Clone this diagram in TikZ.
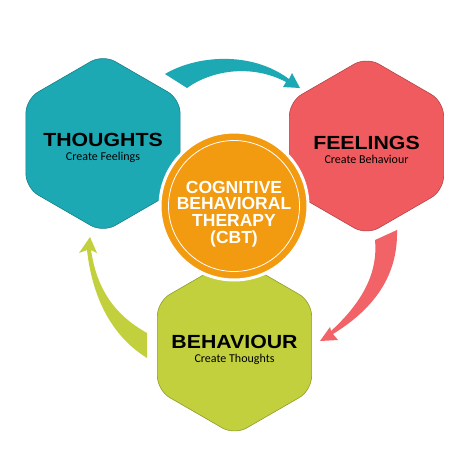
\documentclass[tikz,border=0pt]{standalone}
\usepackage{fontspec}
\usepackage{graphicx}
\setmainfont{Liberation Sans}
\newfontfamily\subfont{Carlito}
\usetikzlibrary{shapes.geometric}
\definecolor{thoughtcol}{HTML}{1DA9B4}
\definecolor{feelcol}{HTML}{F05B5F}
\definecolor{behavcol}{HTML}{C1D03C}
\definecolor{cbtcol}{HTML}{F29A10}
\newcommand{\hextitle}[2]{\scalebox{1.12}[1]{\fontsize{19}{14}\selectfont\bfseries #1}\\{\subfont\fontsize{12}{14}\selectfont #2}}
\tikzset{
  hexbox/.style={regular polygon, regular polygon sides=6, shape border rotate=30,
    minimum size=178pt, inner sep=0pt, rounded corners=14pt, fill=#1,
    draw=#1!75!black, line width=0.6pt},
  hextext/.style={inner sep=0pt, align=center, font=\fontsize{12}{14}\selectfont},
  cbtbox/.style={circle, minimum size=148pt, inner sep=0pt, fill=cbtcol, draw=white,
    line width=3pt, text=white, align=center, font=\fontsize{17.5}{16.7}\selectfont\bfseries}
}
\begin{document}
\begin{tikzpicture}[x=1pt,y=-1pt]
    \fill[white] (0,0) rectangle (450,450);
    \useasboundingbox (0,0) rectangle (450,450);
    % Arrows
    \fill[thoughtcol] (165,74) .. controls (195,56) and (250,50) .. (289,79) -- (292,73) -- (300,88)
      -- (283,87) -- (286,82) .. controls (252,64) and (212,70) .. (187,88) -- cycle;
    \fill[feelcol!95!white] (397,230) .. controls (398,270) and (380,305) .. (333,334) -- (338,340) -- (320,341)
      -- (330,327) -- (331,331) .. controls (365,300) and (378,270) .. (375,240) -- cycle;
    \fill[behavcol] (147,358) .. controls (110,335) and (92,295) .. (87,250) -- (79,253) -- (90,237)
      -- (97,253) -- (91,250) .. controls (97,290) and (115,315) .. (147,333) -- cycle;
    % Hexagons
    \foreach \name/\x/\y/\col/\word/\sub in {thoughts/103/143.5/thoughtcol/THOUGHTS/Create Feelings,
        feelings/366.5/146/feelcol/FEELINGS/Create Behaviour,
        behaviour/234.5/346/behavcol/BEHAVIOUR/Create Thoughts} {
      \node[hexbox=\col] (\name) at (\x,\y) {};
      \node[hextext] (\name-text) at ([yshift=-4pt]\name.center) {\hextitle{\word}{\sub}};
    }
    % Centre
    \node[cbtbox] (cbt) at (234,206) {};
    \node[cbtbox,draw=none,fill=none,minimum size=0pt] (cbt-text) at ([yshift=-8pt]cbt.center)
      {COGNITIVE\\BEHAVIORAL\\THERAPY\\(CBT)};
    \draw[white,line width=0.8pt] (cbt.center) circle (65.5pt);
  \end{tikzpicture}
\end{document}
